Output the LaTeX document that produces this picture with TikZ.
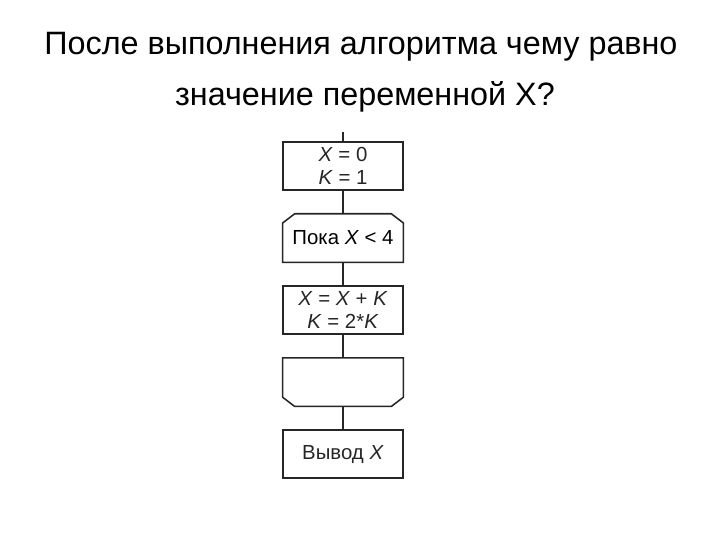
\documentclass[tikz,border=0pt]{standalone}
\usepackage{fontspec}
\setmainfont{Liberation Sans}
\usetikzlibrary{positioning}
\tikzset{
  blockbox/.style={minimum width=3cm, minimum height=1.2cm, align=center,
                   inner sep=0pt, font=\fontsize{14.5}{16}\selectfont},
  boxline/.style={line width=1.1pt, black!85},
  titletext/.style={font=\fontsize{23}{27}\selectfont},
}
\newcommand{\vx}{\textit{X}}
\newcommand{\vk}{\textit{K}}

\begin{document}
\begin{tikzpicture}[node distance=0.575cm]
  \useasboundingbox (0,0) rectangle (18,13.5);
  % Заголовок
  \node[titletext] (title1) at (9.025,12.325) {После выполнения алгоритма чему равно};
  \node[titletext] (title2) at (9.125,11.075) {значение переменной X?};
  % Блоки
  \node[blockbox, draw, boxline] (init) at (8.575,9.35) {\vx{} = 0\\\vk{} = 1};
  \node[blockbox, below=of init] (cond) {Пока \vx{} < 4};
  \node[blockbox, draw, boxline, below=of cond] (body) {\vx{} = \vx{} + \vk\\\vk{} = 2*\vk};
  \node[blockbox, below=of body] (loopend) {};
  \node[blockbox, draw, boxline, below=of loopend] (output) {Вывод \vx};
  \coordinate[above=0.225cm of init] (entry);
  % Начало и конец цикла
  \draw[boxline] (cond.south west) -- ([yshift=-6.5pt]cond.north west)
    -- ([xshift=8.5pt]cond.north west) -- ([xshift=-8.5pt]cond.north east)
    -- ([yshift=-6.5pt]cond.north east) -- (cond.south east) -- cycle;
  \draw[boxline] (loopend.north west) -- ([yshift=6.5pt]loopend.south west)
    -- ([xshift=8.5pt]loopend.south west) -- ([xshift=-8.5pt]loopend.south east)
    -- ([yshift=6.5pt]loopend.south east) -- (loopend.north east) -- cycle;
  % Линии
  \draw[boxline] (entry) -- (init);
  \draw[boxline] (init) -- (cond);
  \draw[boxline] (cond) -- (body);
  \draw[boxline] (body) -- (loopend);
  \draw[boxline] (loopend) -- (output);
\end{tikzpicture}
\end{document}
